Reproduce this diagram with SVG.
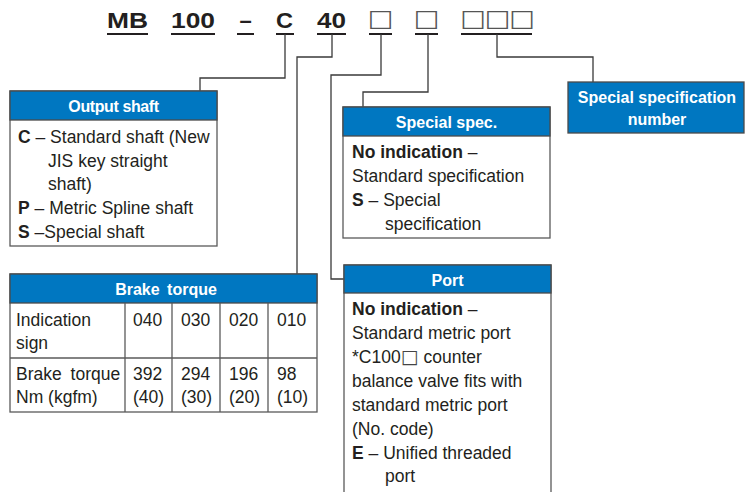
<svg xmlns="http://www.w3.org/2000/svg" width="745" height="492" viewBox="0 0 745 492">
<style>
.bg{fill:#ffffff}
.box{fill:#ffffff;stroke:#5a5a5a;stroke-width:1.3}
.hdr{fill:#0077c1;stroke:#4a4a4a;stroke-width:1.3}
.ht{font-family:"Liberation Sans",Arial,sans-serif;font-weight:bold;font-size:16px;fill:#ffffff;text-anchor:middle}
.t{font-family:"Liberation Sans",Arial,sans-serif;font-size:17.5px;fill:#231f20}
.b{font-weight:bold}
.code{font-family:"Liberation Sans",Arial,sans-serif;font-weight:bold;font-size:22px;fill:#231f20}
.sq{font-family:"DejaVu Sans",sans-serif;font-size:27px;fill:#555;text-anchor:middle}
.ul{stroke:#231f20;stroke-width:2}
.cn{fill:none;stroke:#3a3a3a;stroke-width:1.3}
.grid{stroke:#5a5a5a;stroke-width:1.3}
</style>
<rect class="bg" x="0" y="0" width="745" height="492"/>

<g id="model-code">
  <text class="code" x="107" y="27.5" textLength="41" lengthAdjust="spacingAndGlyphs">MB</text>
  <text class="code" x="171" y="27.5" textLength="44" lengthAdjust="spacingAndGlyphs">100</text>
  <text class="code" x="245.5" y="27.5" text-anchor="middle">–</text>
  <text class="code" x="276" y="27.5" textLength="17" lengthAdjust="spacingAndGlyphs">C</text>
  <text class="code" x="317" y="27.5" textLength="29" lengthAdjust="spacingAndGlyphs">40</text>
  <g transform="translate(0,26) scale(1,0.86)">
    <text class="sq" x="380.5" y="0">□</text>
    <text class="sq" x="426.5" y="0">□</text>
    <text class="sq" x="473 497.5 522" y="0">□□□</text>
  </g>
  <line class="ul" x1="107" y1="34" x2="148" y2="34"/>
  <line class="ul" x1="171" y1="34" x2="215" y2="34"/>
  <line class="ul" x1="237" y1="34" x2="254" y2="34"/>
  <line class="ul" x1="276" y1="34" x2="294" y2="34"/>
  <line class="ul" x1="317" y1="34" x2="346" y2="34"/>
  <line class="ul" x1="369" y1="34" x2="392" y2="34"/>
  <line class="ul" x1="415" y1="34" x2="438" y2="34"/>
  <line class="ul" x1="461" y1="34" x2="532" y2="34"/>
</g>

<g id="connectors">
  <path class="cn" d="M285,34 V78 H200 V91"/>
  <path class="cn" d="M332,34 V57 H297 V274"/>
  <path class="cn" d="M381,34 V75 H331 V279 H344"/>
  <path class="cn" d="M428,34 V92 H363 V107"/>
  <path class="cn" d="M497,34 V57 H593 V82"/>
</g>

<g id="output-shaft">
  <rect class="box" x="10" y="91" width="207" height="155"/>
  <rect class="hdr" x="10" y="91" width="207" height="29"/>
  <text class="ht" x="113.5" y="112" font-size="15" letter-spacing="-0.4">Output shaft</text>
  <text class="t" x="18" y="143"><tspan class="b">C</tspan> – Standard shaft (New</text>
  <text class="t" x="48" y="167">JIS  key straight</text>
  <text class="t" x="48" y="190">shaft)</text>
  <text class="t" x="18" y="214"><tspan class="b">P</tspan> – Metric Spline shaft</text>
  <text class="t" x="18" y="238"><tspan class="b">S</tspan> –Special  shaft</text>
</g>

<g id="brake-torque">
  <rect class="box" x="10" y="274" width="307" height="138"/>
  <rect class="hdr" x="10" y="274" width="307" height="29"/>
  <text class="ht" x="166" y="295" font-size="15" word-spacing="3">Brake torque</text>
  <line class="grid" x1="10" y1="358" x2="317" y2="358"/>
  <line class="grid" x1="125" y1="303" x2="125" y2="412"/>
  <line class="grid" x1="172" y1="303" x2="172" y2="412"/>
  <line class="grid" x1="220" y1="303" x2="220" y2="412"/>
  <line class="grid" x1="268" y1="303" x2="268" y2="412"/>
  <text class="t" x="16" y="326">Indication</text>
  <text class="t" x="16" y="349">sign</text>
  <text class="t" x="133" y="326">040</text>
  <text class="t" x="181" y="326">030</text>
  <text class="t" x="229" y="326">020</text>
  <text class="t" x="277" y="326">010</text>
  <text class="t" x="16" y="380" word-spacing="4">Brake torque</text>
  <text class="t" x="16" y="403">Nm (kgfm)</text>
  <text class="t" x="133" y="380">392</text>
  <text class="t" x="133" y="403">(40)</text>
  <text class="t" x="181" y="380">294</text>
  <text class="t" x="181" y="403">(30)</text>
  <text class="t" x="229" y="380">196</text>
  <text class="t" x="229" y="403">(20)</text>
  <text class="t" x="277" y="380">98</text>
  <text class="t" x="277" y="403">(10)</text>
</g>

<g id="special-spec">
  <rect class="box" x="343" y="107" width="207" height="131"/>
  <rect class="hdr" x="343" y="107" width="207" height="29"/>
  <text class="ht" x="446.5" y="128">Special spec.</text>
  <text class="t" x="352" y="158"><tspan class="b">No indication</tspan>  –</text>
  <text class="t" x="352" y="182">Standard specification</text>
  <text class="t" x="352" y="206"><tspan class="b">S</tspan>  –  Special</text>
  <text class="t" x="385" y="230">specification</text>
</g>

<g id="special-spec-number">
  <rect class="hdr" x="568" y="82" width="176" height="51"/>
  <text class="ht" x="657" y="103">Special specification</text>
  <text class="ht" x="657" y="125">number</text>
</g>

<g id="port">
  <rect class="box" x="344" y="265" width="207" height="240"/>
  <rect class="hdr" x="344" y="265" width="207" height="28"/>
  <text class="ht" x="447.5" y="286">Port</text>
  <text class="t" x="352" y="315"><tspan class="b">No indication</tspan>  –</text>
  <text class="t" x="352" y="339">Standard metric port</text>
  <text class="t" x="352" y="363">*C100<tspan font-family="DejaVu Sans, sans-serif" font-size="19" fill="#444">□</tspan> counter</text>
  <text class="t" x="352" y="387">balance valve fits with</text>
  <text class="t" x="352" y="411">standard metric port</text>
  <text class="t" x="352" y="435">(No. code)</text>
  <text class="t" x="352" y="459"><tspan class="b">E</tspan> –  Unified threaded</text>
  <text class="t" x="385" y="482">port</text>
</g>
</svg>
